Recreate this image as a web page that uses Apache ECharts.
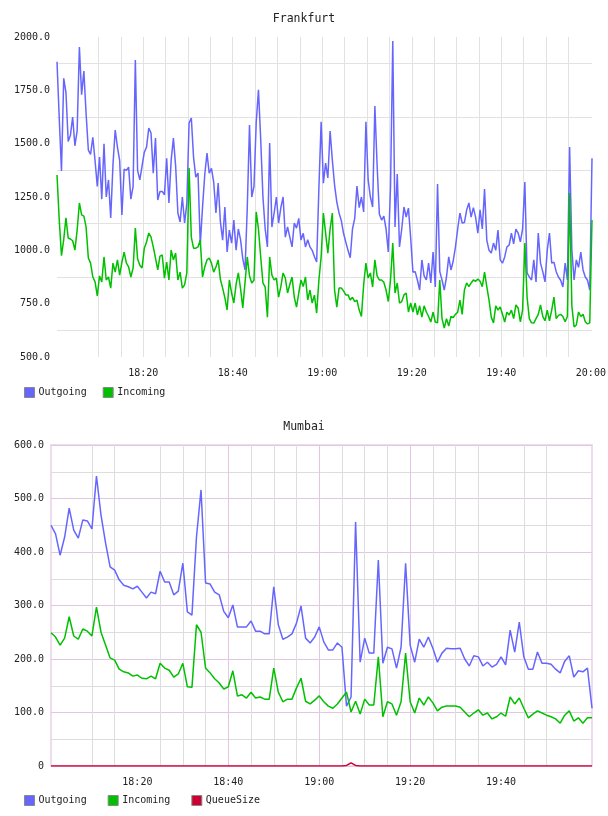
<!DOCTYPE html>
<html><head><meta charset="utf-8">
<script src="https://cdn.jsdelivr.net/npm/echarts@6/dist/echarts.min.js"></script>
<style>html,body{margin:0;padding:0;background:#fff}#c{width:608px;height:816px}</style>
</head><body><div id="c"></div>
<script>
// ---------- Frankfurt (30 s samples starting 18:00:45) ----------
const fraOut = [
1884,1620,1372,1806,1740,1510,1540,1625,1490,1560,
1953,1730,1840,1640,1470,1450,1530,1420,1300,1437,
1240,1500,1250,1330,1152,1400,1564,1484,1420,1166,
1380,1375,1390,1240,1300,1892,1375,1330,1395,1460,
1484,1573,1550,1362,1526,1236,1276,1276,1260,1432,
1222,1423,1526,1395,1175,1133,1250,1128,1220,1597,
1620,1437,1343,1362,1025,1200,1353,1456,1362,1384,
1320,1175,1315,1133,1048,1203,992,1095,1034,1142,
1001,1100,1050,960,908,1200,1587,1250,1300,1600,
1752,1520,1250,1100,1016,1503,1109,1175,1250,1128,
1200,1250,1062,1110,1062,1016,1128,1104,1150,1048,
1080,1016,1050,1016,1000,970,945,1292,1603,1315,
1409,1339,1559,1423,1306,1226,1175,1140,1080,1039,
1000,965,1100,1150,1301,1200,1250,1180,1603,1330,
1250,1203,1677,1400,1170,1142,1160,1100,992,1300,
1981,1109,1358,1016,1100,1203,1156,1198,1058,898,
900,861,814,955,880,861,940,847,992,828,
1311,900,861,814,875,969,908,950,1016,1100,
1175,1128,1130,1189,1222,1156,1200,1156,1081,1190,
1100,1287,1048,1000,987,1034,1000,1095,955,940,
969,1016,1025,1081,1030,1100,1081,1040,1100,1320,
894,875,861,955,852,1081,940,900,852,1000,
1081,940,945,900,875,860,828,940,861,1484,
1001,861,955,920,992,908,875,860,814,1432];
const fraIn = [
1353,1142,975,1050,1152,1058,1053,1045,1001,1095,
1222,1166,1160,1109,964,940,875,852,786,880,
852,969,861,875,823,940,898,955,884,945,
992,940,922,875,917,1104,960,930,917,1010,
1039,1081,1062,1016,964,908,973,978,870,945,
861,1001,955,987,861,898,823,838,894,1386,
1062,1010,1010,1016,1048,875,922,955,964,940,
898,922,955,863,823,777,720,861,800,753,
840,894,820,730,850,969,880,847,860,1180,
1100,969,847,828,687,969,884,861,870,781,
830,894,870,800,840,875,781,734,800,861,
830,875,767,814,753,790,706,861,969,1175,
1081,987,1100,1175,814,734,823,823,810,791,
791,767,780,760,767,720,690,840,940,870,
894,828,955,880,861,861,850,814,760,861,
1034,800,847,753,760,791,800,711,753,711,
753,697,740,687,740,711,690,664,710,664,
660,861,680,636,680,645,690,685,700,710,
767,700,814,847,830,847,861,855,866,855,
830,898,830,767,687,660,740,720,735,700,
664,710,697,720,680,744,730,665,720,1034,
780,680,660,659,680,700,744,690,670,720,
670,720,781,680,695,700,690,665,690,1269,
740,641,650,711,690,700,665,655,660,1142];
const fraStart = '18:00:45';
const fraStepSec = 30;
const fraTickLabels = ['18:20','18:40','19:00','19:20','19:40','20:00'];

// ---------- Mumbai (1 min samples starting 18:01) ----------
const mumOut = [
450,434,394,428,482,441,426,460,458,443,
542,469,417,372,366,348,338,335,331,336,
325,314,325,322,364,344,344,320,327,379,
288,282,428,516,342,340,325,320,289,277,
301,260,260,260,271,252,252,247,247,335,
264,237,241,247,267,299,239,230,241,260,
232,217,217,230,222,112,129,456,194,239,
211,211,385,192,222,219,183,222,379,226,
194,237,222,241,220,194,211,220,219,219,
220,200,187,206,204,187,194,185,190,204,
189,254,213,269,204,181,181,213,192,192,
190,181,174,196,206,166,178,176,183,108];
const mumIn = [
249,241,226,239,279,243,237,256,252,243,
297,250,226,202,198,181,176,174,168,170,
164,163,168,163,192,183,179,166,172,192,
148,147,264,250,183,174,163,155,144,148,
178,131,133,127,138,127,129,125,125,183,
138,120,125,125,146,164,121,116,123,131,
120,112,108,116,127,138,101,121,97,125,
114,114,204,92,120,116,95,120,211,120,
99,127,114,129,118,103,110,112,112,112,
110,101,92,99,105,95,99,88,92,99,
93,129,116,127,108,90,97,103,99,95,
92,88,80,95,103,84,90,80,90,90];
const mumQueue = [
0,0,0,0,0,0,0,0,0,0,
0,0,0,0,0,0,0,0,0,0,
0,0,0,0,0,0,0,0,0,0,
0,0,0,0,0,0,0,0,0,0,
0,0,0,0,0,0,0,0,0,0,
0,0,0,0,0,0,0,0,0,0,
0,0,0,0,0,1,6,1,0,0,
0,0,0,0,0,0,0,0,0,0,
0,0,0,0,0,0,0,0,0,0,
0,0,0,0,0,0,0,0,0,0,
0,0,0,0,0,0,0,0,0,0,
0,0,0,0,0,0,0,0,0,0];
const mumStart = '18:01:00';
const mumStepSec = 60;
const mumTickLabels = ['18:20','18:40','19:00','19:20','19:40'];

// ---------- helpers ----------
const FONT = 'DejaVu Sans Mono';
const BLUE = '#6666ff', GREEN = '#00c000', RED = '#cc0033';
function toMin(s){const p=s.split(':').map(Number);return (p[0]-18)*60+p[1]+(p[2]||0)/60;}
function fmt(v){const t=Math.round(v);const h=18+Math.floor(t/60);const m=t%60;return h+':'+(m<10?'0':'')+m;}
function times(start, step, n){const s=toMin(start);const out=[];for(let i=0;i<n;i++)out.push(s+i*step/60);return out;}
function pairs(t, v){return v.map((y,i)=>[t[i],y]);}

const fraT = times(fraStart, fraStepSec, fraOut.length);
const mumT = times(mumStart, mumStepSec, mumOut.length);
const fraLabelVals = fraTickLabels.map(toMin);
const mumLabelVals = mumTickLabels.map(toMin);
const fiveMin = []; for (let m=5; m<=120; m+=5) fiveMin.push(m);
const mumMinor = fiveMin.filter(m => m%20!==0 && m<120);

const labelStyle = {fontFamily: FONT, fontSize: 10, color: '#222'};

const chart = echarts.init(document.getElementById('c'));
chart.setOption({
  animation: false,
  backgroundColor: '#fff',
  title: [
    {text:'Frankfurt', left:'center', top:13, padding:0,
     textStyle:{fontFamily:FONT, fontSize:11.5, fontWeight:'normal', color:'#222'}},
    {text:'Mumbai', left:'center', top:421, padding:0,
     textStyle:{fontFamily:FONT, fontSize:11.5, fontWeight:'normal', color:'#222'}}
  ],
  legend: [
    {data:['Outgoing','Incoming'], left:24, top:387, padding:0, itemGap:16,
     itemWidth:10, itemHeight:10, icon:'rect',
     itemStyle:{borderColor:'#888', borderWidth:1},
     textStyle:{fontFamily:FONT, fontSize:10, color:'#222', padding:[0,0,0,-1]}},
    {data:['Outgoing','Incoming','QueueSize'], left:24, top:795, padding:0, itemGap:21,
     itemWidth:10, itemHeight:10, icon:'rect',
     itemStyle:{borderColor:'#888', borderWidth:1},
     textStyle:{fontFamily:FONT, fontSize:10, color:'#222', padding:[0,0,0,-1]}}
  ],
  grid: [
    {left:57, top:37, width:535, height:320, show:false, outerBoundsMode:'none'},
    {left:51, top:445, width:541, height:321, show:true, borderColor:'#eedcee', borderWidth:2, outerBoundsMode:'none'}
  ],
  xAxis: [
    {type:'value', gridIndex:0, min:fraT[0], max:fraT[fraT.length-1],
     axisLine:{show:false},
     axisTick:{show:false, customValues: fiveMin},
     axisLabel:{customValues: fraLabelVals, formatter: fmt, margin:11, ...labelStyle},
     splitLine:{show:true, showMinLine:false, showMaxLine:false, lineStyle:{color:'#e2e2e2', width:1}}},
    {type:'value', gridIndex:1, position:'bottom', min:mumT[0], max:mumT[mumT.length-1],
     axisLine:{show:false},
     axisTick:{show:false, customValues: mumMinor},
     axisLabel:{show:false},
     splitLine:{show:true, showMinLine:false, showMaxLine:false, lineStyle:{color:'#dddddd', width:1}}},
    {type:'value', gridIndex:1, position:'bottom', min:mumT[0], max:mumT[mumT.length-1],
     axisLine:{show:false},
     axisTick:{show:false, customValues: mumLabelVals},
     axisLabel:{customValues: mumLabelVals, formatter: fmt, margin:11, ...labelStyle},
     splitLine:{show:true, showMinLine:false, showMaxLine:false, lineStyle:{color:'#e2c6e2', width:1}}}
  ],
  yAxis: [
    {type:'value', gridIndex:0, min:500, max:2000, interval:250,
     axisLine:{show:false}, axisTick:{show:false},
     axisLabel:{formatter: v => v.toFixed(1), margin:7, ...labelStyle},
     splitLine:{show:false},
     minorTick:{show:false, splitNumber:2},
     minorSplitLine:{show:true, lineStyle:{color:'#e2e2e2', width:1}}},
    {type:'value', gridIndex:1, min:0, max:600, interval:100,
     axisLine:{show:false}, axisTick:{show:false},
     axisLabel:{formatter: v => v===0 ? '0' : v.toFixed(1), margin:7, ...labelStyle},
     splitLine:{show:true, lineStyle:{color:'#e2c6e2', width:1}},
     minorTick:{show:false, splitNumber:2},
     minorSplitLine:{show:true, lineStyle:{color:'#dddddd', width:1}}}
  ],
  series: [
    {name:'Outgoing', type:'line', xAxisIndex:0, yAxisIndex:0, data:pairs(fraT, fraOut),
     showSymbol:false, color:BLUE, lineStyle:{color:BLUE, width:1.5}},
    {name:'Incoming', type:'line', xAxisIndex:0, yAxisIndex:0, data:pairs(fraT, fraIn),
     showSymbol:false, color:GREEN, lineStyle:{color:GREEN, width:1.5}},
    {name:'Outgoing', type:'line', xAxisIndex:2, yAxisIndex:1, data:pairs(mumT, mumOut),
     showSymbol:false, color:BLUE, lineStyle:{color:BLUE, width:1.5}},
    {name:'Incoming', type:'line', xAxisIndex:2, yAxisIndex:1, data:pairs(mumT, mumIn),
     showSymbol:false, color:GREEN, lineStyle:{color:GREEN, width:1.5}},
    {name:'QueueSize', type:'line', xAxisIndex:2, yAxisIndex:1, data:pairs(mumT, mumQueue),
     showSymbol:false, color:RED, lineStyle:{color:RED, width:1.5}}
  ]
});
</script></body></html>
